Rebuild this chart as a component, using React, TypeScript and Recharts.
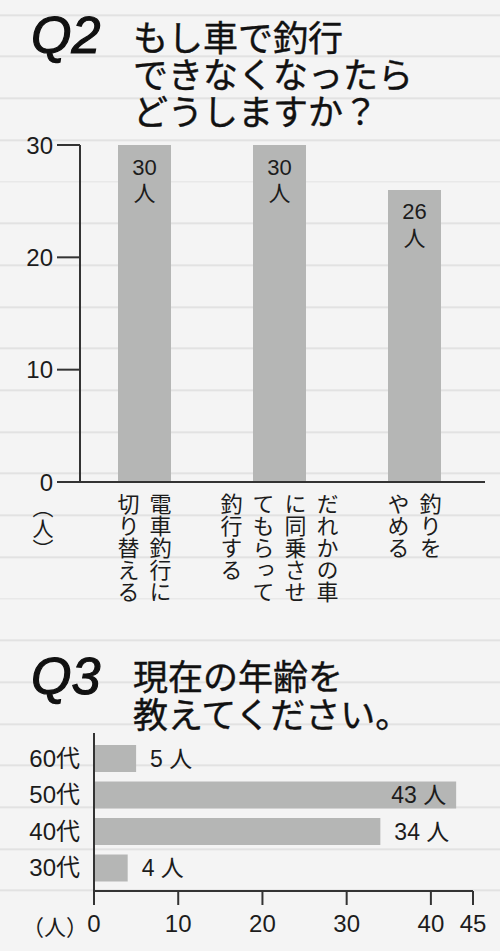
import { BarChart, Bar, XAxis, YAxis, LabelList } from 'recharts'

// Q2: もし車で釣行できなくなったらどうしますか？
const q2Categories = ['電車釣行に切り替える', 'だれかの車に同乗させてもらって釣行する', '釣りをやめる']
const q2TickColumns = [
  ['電車釣行に', '切り替える'],
  ['だれかの車', 'に同乗させ', 'てもらって', '釣行する'],
  ['釣りを', 'やめる'],
]
const q2Values = [30, 30, 26]
const q2Ticks = [0, 10, 20, 30]

// Q3: 現在の年齢を教えてください。
const q3Ages = ['60代', '50代', '40代', '30代']
const q3Values = [5, 43, 34, 4]
const q3Ticks = [0, 10, 20, 30, 40, 45]

const q2Data = q2Categories.map((name, i) => ({ name, value: q2Values[i] }))
const q3Data = q3Ages.map((age, i) => ({ age, value: q3Values[i] }))

const NUM_FONT = "'Liberation Sans', Arial, 'Noto Sans CJK JP', sans-serif"
const JP_FONT = "'Noto Sans CJK JP', sans-serif"
const INK = '#1c1c1c'
const BAR = '#b5b6b5'
const AXIS = '#333'

function VerticalTick(props: any) {
  const { x, y, payload } = props
  const idx = q2Categories.indexOf(payload.value)
  const cols = q2TickColumns[idx] ?? [payload.value]
  const gap = 32
  const n = cols.length
  return (
    <g>
      {cols.map((col, i) => (
        <text
          key={i}
          x={Number(x) + ((n - 1) / 2 - i) * gap}
          y={Number(y) + 11}
          fontSize={22}
          fill={INK}
          fontFamily={JP_FONT}
          style={{ writingMode: 'vertical-rl' }}
        >
          {col}
        </text>
      ))}
    </g>
  )
}

function TopLabel(props: any) {
  const x = Number(props.x)
  const y = Number(props.y)
  const cx = x + Number(props.width) / 2
  return (
    <g fill={INK} textAnchor="middle">
      <text x={cx} y={y + 22} dominantBaseline="central" fontSize={22} fontFamily={NUM_FONT}>
        {props.value}
      </text>
      <text x={cx} y={y + 46} dominantBaseline="central" fontSize={22} fontFamily={JP_FONT}>
        人
      </text>
    </g>
  )
}

function SideLabel(props: any) {
  const x = Number(props.x)
  const y = Number(props.y)
  const w = Number(props.width)
  const h = Number(props.height)
  const inside = props.value / 45 > 0.85
  return (
    <text
      x={inside ? x + w - 10 : x + w + 14}
      y={y + h / 2}
      textAnchor={inside ? 'end' : 'start'}
      dominantBaseline="central"
      fontSize={23}
      fill={INK}
      fontFamily={NUM_FONT}
    >
      {props.value} 人
    </text>
  )
}

export default function App() {
  return (
    <div
      style={{
        position: 'absolute',
        left: 0,
        top: 0,
        width: 500,
        height: 951,
        overflow: 'hidden',
        backgroundColor: '#f4f4f4',
        backgroundImage:
          'repeating-linear-gradient(180deg, #f4f4f4 0px, #f4f4f4 39.7px, #e2e2e2 39.7px, #e2e2e2 41.7px)',
        backgroundPosition: '0 -25.7px',
      }}
    >
      {/* Q2 chart */}
      <div style={{ position: 'absolute', left: 0, top: 0 }}>
        <BarChart width={500} height={640} data={q2Data} margin={{ top: 145, right: 15, left: 0, bottom: 128 }}>
          <XAxis
            dataKey="name"
            height={30}
            padding={{ left: -3, right: 3 }}
            tickLine={false}
            tickSize={0}
            tickMargin={0}
            axisLine={{ stroke: AXIS, strokeWidth: 2 }}
            tick={<VerticalTick />}
            interval={0}
          />
          <YAxis
            width={80}
            domain={[0, 30]}
            ticks={q2Ticks}
            tickSize={23}
            tickMargin={4}
            axisLine={{ stroke: AXIS, strokeWidth: 2 }}
            tickLine={{ stroke: AXIS, strokeWidth: 2 }}
            tick={{ fontSize: 24, fill: INK, fontFamily: NUM_FONT }}
          />
          <Bar dataKey="value" fill={BAR} barSize={53} isAnimationActive={false}>
            <LabelList dataKey="value" content={<TopLabel />} />
          </Bar>
        </BarChart>
      </div>

      {/* Q3 chart */}
      <div style={{ position: 'absolute', left: 0, top: 720 }}>
        <BarChart
          width={500}
          height={231}
          data={q3Data}
          layout="vertical"
          margin={{ top: 13, right: 27, left: 0, bottom: 20 }}
        >
          <XAxis
            type="number"
            domain={[0, 45]}
            ticks={q3Ticks}
            height={40}
            tickSize={14}
            tickMargin={10}
            axisLine={{ stroke: AXIS, strokeWidth: 2 }}
            tickLine={{ stroke: AXIS, strokeWidth: 2 }}
            tick={{ fontSize: 24, fill: INK, fontFamily: NUM_FONT }}
          />
          <YAxis
            type="category"
            dataKey="age"
            width={94}
            padding={{ top: 7, bottom: 5 }}
            tickLine={false}
            tickSize={0}
            tickMargin={14}
            axisLine={{ stroke: AXIS, strokeWidth: 2 }}
            tick={{ fontSize: 24, fill: INK, fontFamily: NUM_FONT }}
            interval={0}
          />
          <Bar dataKey="value" fill={BAR} barSize={27} isAnimationActive={false}>
            <LabelList dataKey="value" content={<SideLabel />} />
          </Bar>
        </BarChart>
      </div>

      {/* titles and unit labels */}
      <svg width={500} height={951} style={{ position: 'absolute', left: 0, top: 0, pointerEvents: 'none' }}>
        <g fill="#111" stroke="#111" strokeWidth={1.2} fontSize={52} fontStyle="italic" fontFamily={NUM_FONT}>
          <text x={31} y={53}>Q2</text>
          <text x={31} y={694}>Q3</text>
        </g>
        <g fill="#111" stroke="#111" strokeWidth={0.4} fontSize={35} fontFamily={JP_FONT} dominantBaseline="central">
          <text x={133} y={35}>もし車で釣行</text>
          <text x={133} y={72}>できなくなったら</text>
          <text x={133} y={109}>どうしますか？</text>
          <text x={133} y={674}>現在の年齢を</text>
          <text x={133} y={712}>教えてください。</text>
        </g>
        <text
          x={43}
          y={497}
          fontSize={21}
          fill={INK}
          fontFamily={JP_FONT}
          style={{ writingMode: 'vertical-rl' }}
        >
          （人）
        </text>
        <text x={22} y={925} fontSize={22} fill={INK} fontFamily={JP_FONT} dominantBaseline="central">
          （人）
        </text>
      </svg>
    </div>
  )
}
